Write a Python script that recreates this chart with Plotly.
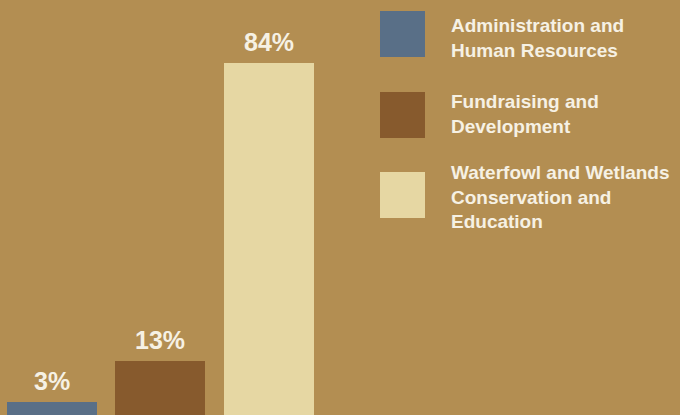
import plotly.graph_objects as go

categories = ["Administration and<br>Human Resources",
              "Fundraising and<br>Development",
              "Waterfowl and Wetlands<br>Conservation and<br>Education"]
values = [3, 13, 84]
labels = ["3%", "13%", "84%"]
colors = ["#596F87", "#875A2D", "#E6D7A3"]

BG = "#B38E52"
TXT = "#F6F1E4"

fig = go.Figure()
fig.add_trace(go.Bar(
    x=[0, 1, 2], y=values, width=0.83,
    marker=dict(color=colors, line=dict(width=0)),
    hoverinfo="skip", showlegend=False,
))

for i, (v, lab) in enumerate(zip(values, labels)):
    fig.add_annotation(x=i, y=v, xref="x", yref="y", text=lab,
                       showarrow=False, yanchor="bottom", yshift=5,
                       font=dict(family="Liberation Sans, Arial, sans-serif",
                                 size=25, color=TXT, weight="bold"))

# legend swatches and texts
sw_top = [11, 92, 172]
text_mid = [38, 114, 197]
for i, cat in enumerate(categories):
    fig.add_shape(type="rect", xref="paper", yref="paper",
                  x0=380/680, x1=425/680,
                  y0=1-(sw_top[i]+46)/415, y1=1-sw_top[i]/415,
                  fillcolor=colors[i], line=dict(width=0))
    fig.add_annotation(xref="paper", yref="paper", x=449/680,
                       y=1-text_mid[i]/415, text=cat, showarrow=False,
                       xanchor="left", yanchor="middle", align="left",
                       font=dict(family="Liberation Sans, Arial, sans-serif",
                                 size=19, color=TXT, weight="bold"))

fig.update_layout(
    width=680, height=415,
    margin=dict(l=0, r=0, t=0, b=0),
    paper_bgcolor=BG, plot_bgcolor=BG,
    xaxis=dict(range=[-0.479, 5.79], visible=False, fixedrange=True),
    yaxis=dict(range=[0, 99.03], visible=False, fixedrange=True),
    bargap=0,
)

fig.write_html("out.html", config={"displayModeBar": False},
               post_script="document.body.style.margin='0';"
                           "document.body.style.background='" + BG + "';")
